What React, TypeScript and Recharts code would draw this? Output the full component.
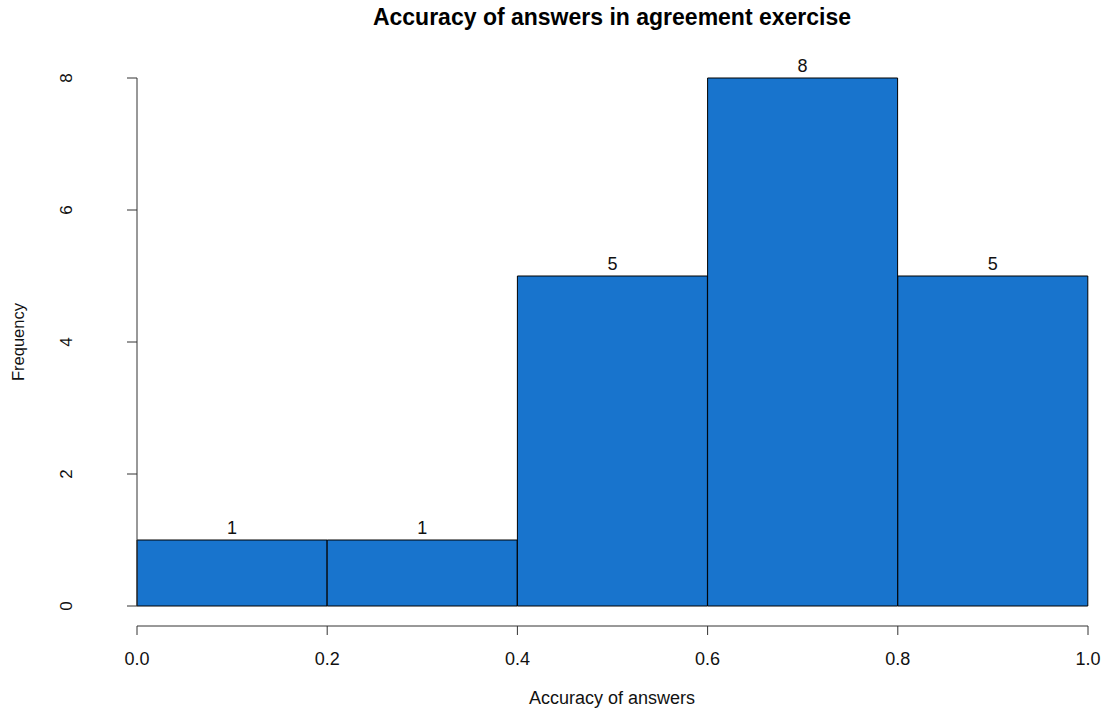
import React from 'react';
import { BarChart, Bar, XAxis, YAxis, LabelList } from 'recharts';

const binLabels = ['0.0–0.2', '0.2–0.4', '0.4–0.6', '0.6–0.8', '0.8–1.0'];
const binStarts = [0, 0.2, 0.4, 0.6, 0.8];
const counts = [1, 1, 5, 8, 5];
const xTicks = [0, 0.2, 0.4, 0.6, 0.8, 1.0];
const yTicks = [0, 2, 4, 6, 8];
const titleText = 'Accuracy of answers in agreement exercise';
const xTitle = 'Accuracy of answers';
const yTitle = 'Frequency';

const data = binLabels.map((bin, i) => ({ bin, lo: binStarts[i], count: counts[i] }));

const FONT = '"Liberation Sans", Arial, sans-serif';
const AXIS = '#333';

const YTick = (props: any) => {
  const { y, payload } = props;
  const x = 72;
  return (
    <text
      x={x}
      y={y}
      transform={`rotate(-90 ${x} ${y})`}
      textAnchor="middle"
      fontFamily={FONT}
      fontSize={17}
      fill="#111"
    >
      {payload.value}
    </text>
  );
};

export default function App() {
  return (
    <div style={{ position: 'absolute', left: 0, top: 0, background: '#fff' }}>
      <BarChart
        width={1102}
        height={710}
        data={data}
        margin={{ top: 78, right: 14, bottom: 0, left: 0 }}
        barCategoryGap={0}
      >
        <XAxis xAxisId="cat" dataKey="bin" height={20} tick={false} axisLine={false} tickLine={false} />
        <XAxis
          xAxisId="num"
          dataKey="lo"
          type="number"
          domain={[0, 1]}
          ticks={xTicks}
          tickFormatter={(v: number) => v.toFixed(1)}
          height={84}
          tickSize={9}
          tickMargin={17}
          axisLine={{ stroke: AXIS }}
          tickLine={{ stroke: AXIS }}
          tick={{ fontFamily: FONT, fontSize: 18, fill: '#111' }}
          allowDataOverflow
        />
        <YAxis yAxisId="pad" width={39} tick={false} axisLine={false} tickLine={false} domain={[0, 8]} />
        <YAxis
          yAxisId="freq"
          width={98}
          domain={[0, 8]}
          ticks={yTicks}
          tickSize={10}
          axisLine={{ stroke: AXIS }}
          tickLine={{ stroke: AXIS }}
          tick={<YTick />}
        />
        <Bar
          dataKey="count"
          xAxisId="cat"
          yAxisId="freq"
          fill="#1874CD"
          stroke="#000"
          strokeWidth={1}
          isAnimationActive={false}
        >
          <LabelList dataKey="count" position="top" offset={6} fill="#111" fontSize={18} fontFamily={FONT} />
        </Bar>
        <text x={612} y={25} textAnchor="middle" fontFamily={FONT} fontWeight="bold" fontSize={23} fill="#000">
          {titleText}
        </text>
        <text x={612} y={704} textAnchor="middle" fontFamily={FONT} fontSize={18} fill="#111">
          {xTitle}
        </text>
        <text
          x={24}
          y={342}
          transform="rotate(-90 24 342)"
          textAnchor="middle"
          fontFamily={FONT}
          fontSize={16.5}
          fill="#111"
        >
          {yTitle}
        </text>
      </BarChart>
    </div>
  );
}
